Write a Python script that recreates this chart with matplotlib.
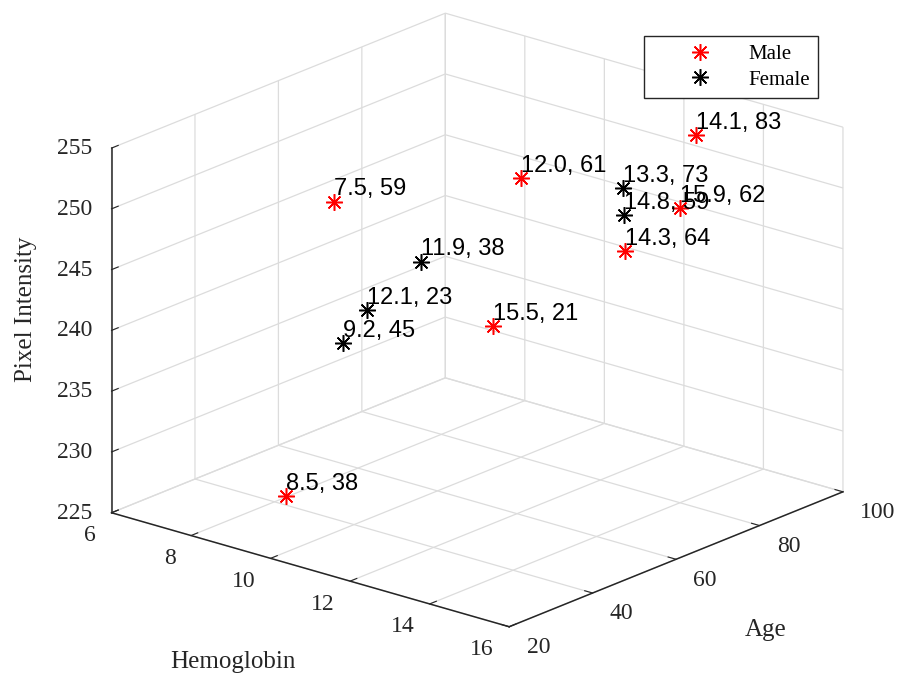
import matplotlib
matplotlib.use("Agg")
import matplotlib.pyplot as plt

plt.rcParams['font.family'] = ['Liberation Serif', 'DejaVu Serif']

# hemoglobin, age, pixel intensity
male_hb = [7.5, 12.0, 14.1, 15.9, 14.3, 15.5, 8.5]
male_age = [59, 61, 83, 62, 64, 21, 38]
male_px = [246.6, 252.5, 254.9, 253.5, 248.2, 249.1, 226.2]

female_hb = [11.9, 12.1, 9.2, 13.3, 14.8]
female_age = [38, 23, 45, 73, 59]
female_px = [248.7, 247.0, 238.5, 251.2, 252.3]

W, H = 897, 675
fig = plt.figure(figsize=(W / 100, H / 100), dpi=100)
S = 805.9
ax = fig.add_axes([63.4 / W, -58.8 / H, S / W, S / H], projection='3d',
                  proj_type='ortho')
ax.view_init(elev=19.9, azim=-49.9)
ax.set_box_aspect((519.6, 517.9, 387.6))

star = (8, 2, 0)
ax.plot(male_hb, male_age, male_px, ls='none', marker=star, ms=12, mew=1.1,
        color='red', label='Male')
ax.plot(female_hb, female_age, female_px, ls='none', marker=star, ms=12,
        mew=1.1, color='black', label='Female')

for hb, age, px in zip(male_hb + female_hb, male_age + female_age,
                       male_px + female_px):
    ax.text(hb, age, px + 1, f'{hb:.1f}, {age}', family='Liberation Sans',
            fontsize=17, ha='left', va='center')

ax.set_xlim(6, 16)
ax.set_ylim(20, 100)
ax.set_zlim(225, 255)
ax.set_xticks(range(6, 17, 2))
ax.set_yticks(range(20, 101, 20))
ax.set_zticks(range(225, 256, 5))

# z axis on the left corner
ax.zaxis.set_ticks_position('lower')

txt = '#262626'
for axis in (ax.xaxis, ax.yaxis, ax.zaxis):
    axis.set_pane_color((1, 1, 1, 0))
    axis.pane.set_edgecolor('#dcdcdc')
    axis.pane.set_linewidth(0.9)
    axis.line.set_color(txt)
    axis.line.set_linewidth(1.1)
    axis._axinfo['grid'].update(color='#dcdcdc', linewidth=0.9)
    axis._axinfo['tick'].update(inward_factor=0.0, outward_factor=0.25)

ax.xaxis.set_tick_params(labelsize=17, colors=txt, pad=5.9)
ax.yaxis.set_tick_params(labelsize=17, colors=txt, pad=5.2)
ax.zaxis.set_tick_params(labelsize=17, colors=txt, pad=-0.2)
plt.setp(ax.get_xticklabels(), ha='right', va='center')
plt.setp(ax.get_yticklabels(), ha='left', va='center')
plt.setp(ax.get_zticklabels(), ha='right', va='center')

# axis titles
fig.text(233 / W, 1 - 662 / H, 'Hemoglobin', fontsize=18, color=txt,
         ha='center', va='center')
fig.text(765.5 / W, 1 - 630 / H, 'Age', fontsize=18, color=txt,
         ha='center', va='center')
fig.text(26 / W, 1 - 309.5 / H, 'Pixel Intensity', fontsize=18, color=txt,
         ha='center', va='center', rotation=90)

ax.legend(loc='upper right', bbox_to_anchor=(818 / W, 1 - 36 / H),
          bbox_transform=fig.transFigure, fontsize=15, frameon=True,
          fancybox=False, edgecolor=txt, framealpha=1, borderpad=0.4,
          borderaxespad=0, handlelength=4.6, handletextpad=0.0,
          labelspacing=0.3)

fig.savefig('out.png', dpi=100)
